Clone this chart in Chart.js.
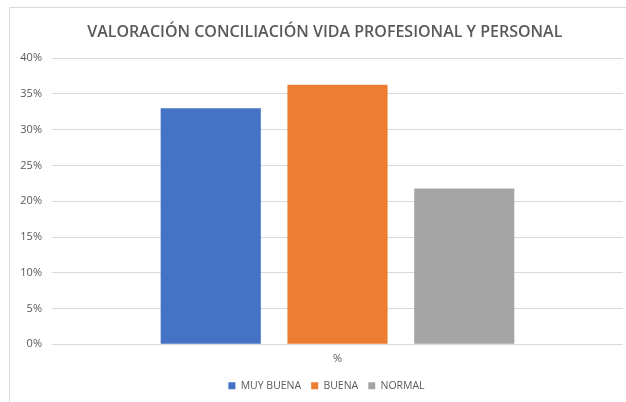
<!DOCTYPE html>
<html>
<head>
<meta charset="utf-8">
<script src="https://cdn.jsdelivr.net/npm/chart.js@4/dist/chart.umd.min.js"></script>
<style>
  html, body { margin: 0; padding: 0; background: #fff; }
  #frame { position: absolute; left: 9px; top: 7px; width: 640px; height: 420px; border: 1px solid #d9d9d9; }
  #wrap { position: absolute; left: 0; top: 0; width: 626px; height: 402px; }
</style>
</head>
<body>
<div id="frame"></div>
<div id="wrap"><canvas id="chart" width="626" height="402"></canvas></div>
<script>
const categories = ["%"];
const seriesNames = ["MUY BUENA", "BUENA", "NORMAL"];
const muyBuena = [33.0];
const buena = [36.3];
const normal = [21.8];
const yTicks = [0, 5, 10, 15, 20, 25, 30, 35, 40];

const colors = ["#4472c4", "#ed7d31", "#a5a5a5"];
const values = [muyBuena, buena, normal];

const textColor = "#595959";
const font = "'Open Sans', 'Liberation Sans', sans-serif";

// the legend in the original sits a little right of centre
const legendNudge = {
    id: "legendNudge",
    afterLayout(chart) {
        if (!chart.legend) return;
        chart.legend.left += 10;
        chart.legend.right += 10;
        chart.legend.adjustHitBoxes && chart.legend.adjustHitBoxes();
    },
};

new Chart(document.getElementById("chart"), {
    type: "bar",
    data: {
        labels: categories,
        datasets: seriesNames.map((name, i) => ({
            label: name,
            data: values[i],
            backgroundColor: colors[i],
            borderWidth: 0,
            barPercentage: 0.79,
            categoryPercentage: 0.666,
        })),
    },
    options: {
        responsive: false,
        animation: false,
        layout: { padding: { left: 10, right: 3, top: 6, bottom: 1 } },
        plugins: {
            title: {
                display: true,
                // leading spaces nudge the centred title to the right, as in the original
                text: "    VALORACIÓN CONCILIACIÓN VIDA PROFESIONAL Y PERSONAL",
                color: textColor,
                font: { family: font, size: 16, weight: "600" },
                padding: { top: 17, bottom: 16 },
            },
            legend: {
                position: "bottom",
                labels: {
                    color: textColor,
                    font: { family: font, size: 10.5 },
                    boxWidth: 7,
                    boxHeight: 7,
                    padding: 10,
                },
            },
            tooltip: { enabled: false },
        },
        scales: {
            x: {
                grid: { display: false },
                border: { display: false },
                ticks: { color: textColor, font: { family: font, size: 11 }, padding: 0 },
                afterFit: (axis) => { axis.height += 5; },
            },
            y: {
                min: 0,
                max: 40,
                afterBuildTicks: (axis) => { axis.ticks = yTicks.map((v) => ({ value: v })); },
                afterFit: (axis) => { axis.width = 42; },
                grid: { color: "#d9d9d9", lineWidth: 1, drawTicks: false },
                border: { display: false },
                ticks: {
                    color: textColor,
                    font: { family: font, size: 11 },
                    padding: 10,
                    callback: (v) => v + "%",
                },
            },
        },
    },
    plugins: [legendNudge],
});
</script>
</body>
</html>
